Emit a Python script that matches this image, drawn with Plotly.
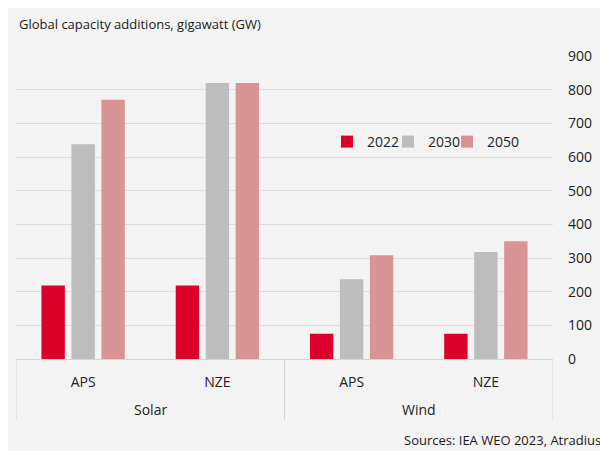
import plotly.graph_objects as go

technologies = ["Solar", "Solar", "Wind", "Wind"]
scenarios = ["APS", "NZE", "APS", "NZE"]
years = ["2022", "2030", "2050"]
values_2022 = [218, 218, 75, 75]
values_2030 = [638, 820, 237, 318]
values_2050 = [770, 820, 308, 350]
colors = ["#dc002b", "#bdbdbd", "#d99595"]
y_ticks = [0, 100, 200, 300, 400, 500, 600, 700, 800, 900]

categories = [t + " " + s for t, s in zip(technologies, scenarios)]
groups = ["Solar", "Wind"]

# page has an 8px body margin; figure sized to fit the window
W, H = 600, 443
L, R, T, B = 8, 55, 48, 92
FONT = "Open Sans"
PH = H - T - B

def px_x(p):
    return (p - L) / (W - L - R)

def px_y(p):
    return 1 - (p - T) / PH

legend_names = ["legend", "legend2", "legend3"]
legend_x = [319, 380, 439]

fig = go.Figure()
for name, vals, c, lg in zip(years, [values_2022, values_2030, values_2050], colors, legend_names):
    fig.add_trace(go.Bar(x=categories, y=vals, name=name, legend=lg,
                         marker=dict(color=c, line=dict(width=0))))

shapes = []
for xd in [-0.5, 1.5, 3.5]:
    shapes.append(dict(type="line", xref="x", yref="paper", x0=xd, x1=xd,
                       y0=0, y1=px_y(412), line=dict(color="#d4d4d4", width=1)))

annotations = [
    dict(text="Global capacity additions, gigawatt (GW)", xref="paper", yref="paper",
         x=px_x(9), y=px_y(16), xanchor="left", yanchor="middle", showarrow=False,
         font=dict(size=13, color="#1a1a1a")),
    dict(text="Sources: IEA WEO 2023, Atradius", xref="paper", yref="paper",
         x=px_x(595), y=px_y(432), xanchor="right", yanchor="middle", showarrow=False,
         font=dict(size=13, color="#1a1a1a")),
]
for i, g in enumerate(groups):
    annotations.append(dict(text=g, xref="x", yref="paper", x=2 * i + 0.5, y=px_y(401),
                            xanchor="center", yanchor="middle", showarrow=False,
                            font=dict(size=14, color="#222")))

legend_common = dict(orientation="h", yanchor="middle", xanchor="left",
                     bgcolor="rgba(0,0,0,0)", font=dict(size=14, color="#222"),
                     tracegroupgap=0)
layout_legends = {}
for lg, lx in zip(legend_names, legend_x):
    layout_legends[lg] = dict(x=px_x(lx), y=px_y(134), **legend_common)

fig.update_layout(
    width=W, height=H,
    margin=dict(l=L, r=R, t=T, b=B),
    paper_bgcolor="#f3f3f3", plot_bgcolor="#f3f3f3",
    font=dict(family=FONT, size=13, color="#222"),
    barmode="group", bargap=0.33, bargroupgap=0.22,
    showlegend=True,
    xaxis=dict(type="category", showgrid=False, showline=True,
               linecolor="#d4d4d4", linewidth=1, ticks="",
               tickvals=categories, ticktext=scenarios, ticklabelstandoff=10,
               tickfont=dict(size=14, color="#222"), range=[-0.5, 3.5]),
    yaxis=dict(side="right", range=[0, 900], tickvals=y_ticks,
               showgrid=True, gridcolor="#dcdcdc", gridwidth=1,
               zeroline=False, showline=False, ticks="",
               ticklabelstandoff=14, tickfont=dict(size=14, color="#222")),
    shapes=shapes,
    annotations=annotations,
    **layout_legends,
)

fig.write_html("out.html")
